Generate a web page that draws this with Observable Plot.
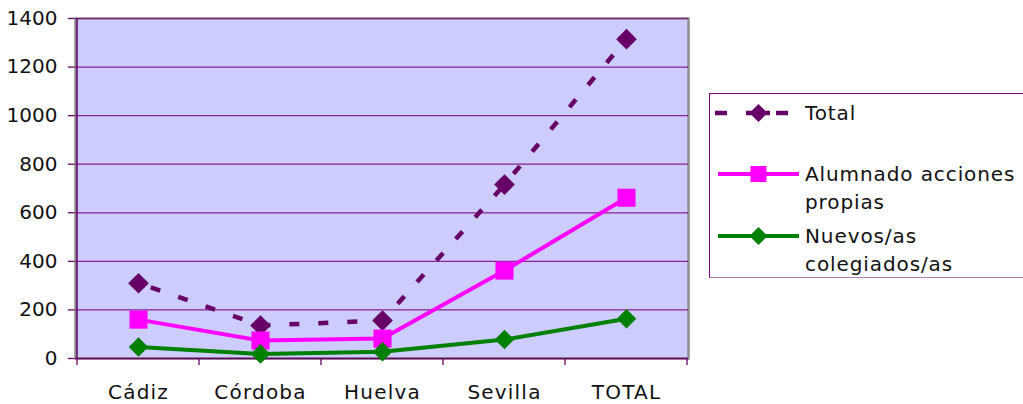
<!DOCTYPE html>
<html>
<head>
<meta charset="utf-8">
<script src="https://cdn.jsdelivr.net/npm/d3@7"></script>
<script src="https://cdn.jsdelivr.net/npm/@observablehq/plot@0.6"></script>
<style>
  html, body { margin: 0; padding: 0; background: #fff; }
  #wrap { position: relative; width: 1023px; height: 404px; overflow: hidden; font-family: "DejaVu Sans", sans-serif; }
  #legend { position: absolute; left: 709px; top: 93px; width: 330px; height: 185px; border: 1.5px solid #800080; border-bottom-color: #b07fb5; background: #fff; box-sizing: border-box; }
  .item { position: absolute; left: 0; display: flex; align-items: flex-start; }
  .item svg { flex: none; }
  .lbl { font-size: 20px; letter-spacing: 0.9px; color: #111; line-height: 28px; margin-left: 5px; }
  [aria-label="x-axis tick label"] text, [aria-label="x-axis tick label"] { letter-spacing: 1.2px; }
</style>
</head>
<body>
<div id="wrap"></div>
<script>
const categories = ["Cádiz", "Córdoba", "Huelva", "Sevilla", "TOTAL"];
const totalValues = [310, 136, 156, 716, 1315];
const alumnadoValues = [160, 74, 82, 362, 662];
const nuevosValues = [47, 19, 28, 78, 164];
const yTicks = [0, 200, 400, 600, 800, 1000, 1200, 1400];
const seriesNames = ["Total", "Alumnado acciones propias", "Nuevos/as colegiados/as"];
const seriesColors = ["#660066", "#ff00ff", "#008000"];

const rows = (vals, s) => categories.map((c, i) => ({cat: c, value: vals[i], series: s}));
const totalRows = rows(totalValues, seriesNames[0]);
const alumnadoRows = rows(alumnadoValues, seriesNames[1]);
const nuevosRows = rows(nuevosValues, seriesNames[2]);

const chart = Plot.plot({
  width: 1023,
  height: 404,
  marginLeft: 75,
  marginRight: 335,
  marginTop: 18,
  marginBottom: 46,
  style: {fontFamily: "DejaVu Sans, sans-serif", fontSize: "20px", color: "#111", background: "transparent"},
  x: {type: "point", domain: categories, padding: 0.5, tickSize: 0, tickPadding: 26, label: null},
  y: {domain: [0, 1400], ticks: yTicks, tickFormat: d => String(d), tickSize: 7, tickPadding: 11, label: null},
  marks: [
    Plot.frame({fill: "#ccccff", stroke: "#8c8c8c", strokeWidth: 2.5}),
    Plot.ruleY(yTicks.filter(d => d > 0), {stroke: "#800080", strokeWidth: 1.2, strokeOpacity: 0.85}),
    Plot.ruleY([0], {stroke: "#660066", strokeWidth: 1.5}),
    Plot.line(totalRows, {x: "cat", y: "value", stroke: seriesColors[0], strokeWidth: 4.5, strokeLinecap: "butt", strokeDasharray: "10,19", strokeDashoffset: -13}),
    Plot.dot(totalRows, {x: "cat", y: "value", symbol: "diamond2", r: 9.3, fill: seriesColors[0], stroke: "none"}),
    Plot.line(alumnadoRows, {x: "cat", y: "value", stroke: seriesColors[1], strokeWidth: 4}),
    Plot.dot(alumnadoRows, {x: "cat", y: "value", symbol: "square", r: 10.2, fill: seriesColors[1], stroke: "none"}),
    Plot.line(nuevosRows, {x: "cat", y: "value", stroke: seriesColors[2], strokeWidth: 4}),
    Plot.dot(nuevosRows, {x: "cat", y: "value", symbol: "diamond2", r: 8.8, fill: seriesColors[2], stroke: "none"})
  ]
});

// axis styling and category boundary ticks, derived from the scales
const svg = d3.select(chart);
const xs = chart.scale("x");
const ys = chart.scale("y");
const pos = categories.map(c => xs.apply(c));
const step = pos[1] - pos[0];
const bounds = [pos[0] - step / 2, ...pos.map(p => p + step / 2)];
const y0 = ys.apply(0), yTop = ys.apply(1400);
svg.selectAll('[aria-label="y-axis tick"] path, [aria-label="y-axis tick"] line, .tick line').attr("stroke", "#660066").attr("stroke-width", 1.3);
svg.selectAll('[aria-label="x-axis tick label"] text').style("letter-spacing", "1.2px");
const g = svg.append("g").attr("stroke", "#660066").attr("stroke-width", 1.3);
g.append("line").attr("x1", bounds[0]).attr("x2", bounds[0]).attr("y1", yTop).attr("y2", y0).attr("stroke-width", 1.5);
bounds.forEach(b => g.append("line").attr("x1", b).attr("x2", b).attr("y1", y0).attr("y2", y0 + 7));

document.getElementById("wrap").appendChild(chart);

// legend
const legend = document.createElement("div");
legend.id = "legend";
document.getElementById("wrap").appendChild(legend);
const items = [
  {name: ["Total"], color: seriesColors[0], symbol: "diamond", dashed: true, top: 5},
  {name: ["Alumnado acciones", "propias"], color: seriesColors[1], symbol: "square", dashed: false, top: 66},
  {name: ["Nuevos/as", "colegiados/as"], color: seriesColors[2], symbol: "diamond", dashed: false, top: 128}
];
items.forEach(it => {
  const d = document.createElement("div");
  d.className = "item";
  d.style.top = it.top + "px";
  const line = it.dashed
    ? `<line x1="5" x2="17" y1="14" y2="14" stroke="${it.color}" stroke-width="4.5"/><line x1="36" x2="60" y1="14" y2="14" stroke="${it.color}" stroke-width="4.5"/><line x1="66" x2="78" y1="14" y2="14" stroke="${it.color}" stroke-width="4.5"/>`
    : `<line x1="8" x2="89" y1="14" y2="14" stroke="${it.color}" stroke-width="4"/>`;
  const sym = it.symbol === "square"
    ? `<rect x="40.5" y="6" width="16" height="16" fill="${it.color}"/>`
    : `<path d="M48.5,5 L57.5,14 L48.5,23 L39.5,14 Z" fill="${it.color}"/>`;
  d.innerHTML = `<svg width="90" height="28">${line}${sym}</svg><div class="lbl">${it.name.join("<br>")}</div>`;
  legend.appendChild(d);
});
</script>
</body>
</html>
